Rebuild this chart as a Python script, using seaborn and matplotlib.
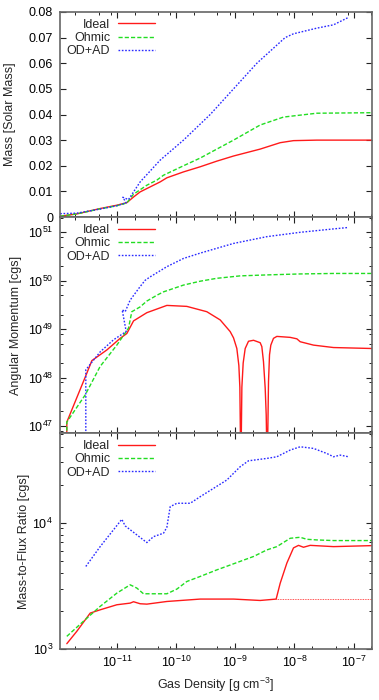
import numpy as np
import matplotlib
matplotlib.use("Agg")
import matplotlib.pyplot as plt
import matplotlib.ticker as mticker
import seaborn as sns

# densities are log10(rho / g cm^-3), log-axis quantities are log10 too

# ---- mass panel ----
mass_ideal_lrho = [-11.957, -11.676, -11.282, -11.0, -10.831, -10.718, -10.606, -10.268, -10.155,
                   -9.874, -9.592, -9.311, -9.029, -8.579, -8.241, -8.016, -7.622, -6.687]
mass_ideal = [0.0003, 0.0012, 0.0033, 0.0046, 0.0056, 0.0078, 0.0098, 0.0137, 0.0153,
              0.0176, 0.0196, 0.0218, 0.0238, 0.0265, 0.029, 0.0298, 0.030, 0.030]

mass_ohmic_lrho = [-11.957, -11.676, -11.282, -11.0, -10.831, -10.718, -10.493, -10.324, -10.212,
                   -9.874, -9.592, -9.311, -9.029, -8.579, -8.185, -7.622, -6.687]
mass_ohmic = [0.0003, 0.0012, 0.0032, 0.0044, 0.0055, 0.0089, 0.0124, 0.0144, 0.0163,
              0.020, 0.023, 0.0265, 0.030, 0.0359, 0.039, 0.0405, 0.0407]

mass_odad_lrho = [-11.957, -11.676, -11.282, -11.0, -10.842, -10.899, -10.803, -10.606, -10.268,
                  -9.874, -9.423, -9.029, -8.635, -8.158, -8.016, -7.622, -7.34, -7.087]
mass_odad = [0.0013, 0.0015, 0.0031, 0.0044, 0.0055, 0.0077, 0.0068, 0.0137, 0.0222,
             0.030, 0.040, 0.050, 0.060, 0.070, 0.0715, 0.0737, 0.075, 0.0779]

# ---- angular momentum panel (log10 J) ----
am_ideal_lrho = [-11.845, -11.845, -11.507, -11.422, -11.169, -10.944, -10.831, -10.718, -10.493,
                 -10.155, -9.818, -9.48, -9.254, -9.086, -9.029, -8.973, -8.939, -8.922, -8.905,
                 -8.888, -8.866, -8.832, -8.776, -8.691, -8.579, -8.551, -8.523, -8.494, -8.477,
                 -8.46, -8.438, -8.421, -8.399, -8.354, -8.297, -8.072, -7.959, -7.903, -7.678,
                 -7.34, -6.687]
am_ideal = [46.0, 47.08, 48.09, 48.35, 48.57, 48.81, 48.91, 49.17, 49.34,
            49.49, 49.47, 49.36, 49.19, 48.95, 48.82, 48.60, 48.25, 47.8, 46.0,
            47.8, 48.3, 48.6, 48.75, 48.77, 48.72, 48.64, 48.33, 47.78, 47.23,
            46.0, 47.92, 48.47, 48.67, 48.81, 48.85, 48.83, 48.80, 48.74, 48.67,
            48.62, 48.60]

am_ohmic_lrho = [-11.845, -11.845, -11.535, -11.282, -11.0, -10.803, -10.747, -10.606, -10.493,
                 -10.324, -10.212, -9.874, -9.592, -9.311, -8.917, -8.466, -7.903, -7.34, -6.687]
am_ohmic = [46.0, 47.08, 47.64, 48.23, 48.67, 49.02, 49.36, 49.46, 49.58,
            49.70, 49.77, 49.91, 49.99, 50.05, 50.10, 50.12, 50.14, 50.15, 50.15]

am_odad_lrho = [-11.524, -11.524, -11.282, -11.056, -10.842, -10.91, -10.859, -10.775, -10.606,
                -10.521, -10.437, -10.155, -9.874, -9.592, -9.311, -9.029, -8.748, -8.466,
                -7.903, -7.34, -7.087]
am_odad = [46.0, 48.16, 48.53, 48.78, 48.95, 49.40, 49.36, 49.60, 49.88,
           50.01, 50.08, 50.29, 50.46, 50.57, 50.67, 50.77, 50.84, 50.91,
           51.0, 51.07, 51.1]

# ---- mass-to-flux panel (log10) ----
mf_ideal_lrho = [-11.845, -11.676, -11.45, -11.282, -11.0, -10.775, -10.718, -10.606, -10.493,
                 -10.155, -9.592, -9.029, -8.579, -8.309, -8.241, -8.128, -8.016, -7.931,
                 -7.847, -7.734, -7.34, -6.687]
mf_ideal = [3.042, 3.14, 3.284, 3.31, 3.35, 3.363, 3.374, 3.358, 3.355,
            3.376, 3.395, 3.395, 3.384, 3.395, 3.52, 3.68, 3.80, 3.82,
            3.805, 3.82, 3.81, 3.818]
mf_ideal_flat_lrho = [-8.309, -6.687]
mf_ideal_flat = [3.395, 3.395]

mf_ohmic_lrho = [-11.845, -11.563, -11.282, -11.0, -10.775, -10.662, -10.55, -10.155, -9.986,
                 -9.818, -9.592, -9.311, -9.029, -8.691, -8.466, -8.297, -8.072, -7.903,
                 -7.791, -7.622, -7.34, -6.687]
mf_ohmic = [3.10, 3.22, 3.337, 3.442, 3.508, 3.482, 3.437, 3.437, 3.474,
            3.534, 3.574, 3.626, 3.674, 3.732, 3.784, 3.81, 3.876, 3.884,
            3.868, 3.863, 3.858, 3.858]

mf_odad_lrho = [-11.524, -11.282, -10.916, -10.859, -10.493, -10.381, -10.212, -10.155, -10.099,
                -9.986, -9.761, -9.592, -9.367, -9.142, -8.917, -8.776, -8.466, -8.297,
                -8.072, -7.903, -7.678, -7.453, -7.34, -7.227, -7.087]
mf_odad = [3.653, 3.81, 4.026, 3.974, 3.842, 3.889, 3.916, 3.963, 4.126,
           4.153, 4.153, 4.205, 4.271, 4.337, 4.442, 4.489, 4.508, 4.521,
           4.574, 4.60, 4.587, 4.547, 4.521, 4.534, 4.521]

x_decades = [-11, -10, -9, -8, -7]
am_decades = [47, 48, 49, 50, 51]
mf_decades = [3, 4]

labels = ["Ideal", "Ohmic", "OD+AD"]
colors = ["#ff1a1a", "#22dd22", "#2a2aff"]
styles = ["-", (0, (3, 1.5)), (0, (1.2, 1.2))]

sns.set_style("ticks")
plt.rcParams["font.family"] = ["Liberation Sans", "DejaVu Sans"]
plt.rcParams["mathtext.default"] = "regular"
plt.rcParams["font.size"] = 9

fig, axes = plt.subplots(3, 1, figsize=(3.79, 7.0), dpi=100, sharex=True,
                         gridspec_kw=dict(height_ratios=[205, 216, 216], hspace=0))
fig.subplots_adjust(left=60 / 379, right=372 / 379, top=1 - 12 / 700, bottom=1 - 649 / 700)

def pw(a):
    return np.power(10.0, np.array(a, dtype=float))

panels = [
    [(mass_ideal_lrho, mass_ideal), (mass_ohmic_lrho, mass_ohmic), (mass_odad_lrho, mass_odad)],
    [(am_ideal_lrho, am_ideal), (am_ohmic_lrho, am_ohmic), (am_odad_lrho, am_odad)],
    [(mf_ideal_lrho, mf_ideal), (mf_ohmic_lrho, mf_ohmic), (mf_odad_lrho, mf_odad)],
]

for i, ax in enumerate(axes):
    ax.set_xscale("log")
    if i > 0:
        ax.set_yscale("log")
    handles = []
    for (lx, ly), lab, c, ls in zip(panels[i], labels, colors, styles):
        yv = np.array(ly) if i == 0 else pw(ly)
        sns.lineplot(x=pw(lx), y=yv, ax=ax, sort=False, estimator=None,
                     color=c, linestyle=ls, lw=1.0, label=lab)
        handles.append(ax.lines[-1])
    if i == 2:
        sns.lineplot(x=pw(mf_ideal_flat_lrho), y=pw(mf_ideal_flat), ax=ax, sort=False,
                     estimator=None, color=colors[0], linestyle=(0, (1, 1)), lw=0.6)
    ax.legend(handles=handles, labels=labels, loc="upper right",
              bbox_to_anchor=(0.3045, 1 - 7 / 216), frameon=False, markerfirst=False,
              handlelength=3.0, handletextpad=0.6, labelspacing=0.1,
              borderpad=0, borderaxespad=0, fontsize=9)

axes[0].set_ylim(0, 0.08)
axes[0].yaxis.set_major_locator(mticker.MultipleLocator(0.01))
axes[0].yaxis.set_major_formatter(mticker.FuncFormatter(lambda v, p: "0" if abs(v) < 1e-9 else f"{v:.2f}"))
axes[1].set_ylim(10 ** 46.855, 10 ** 51.316)
axes[1].yaxis.set_major_locator(mticker.FixedLocator(pw(am_decades)))
axes[1].yaxis.set_minor_locator(mticker.LogLocator(base=10, subs=[2, 5, 8]))
axes[1].yaxis.set_minor_formatter(mticker.NullFormatter())
axes[2].set_ylim(1000, 10 ** 4.709)
axes[2].yaxis.set_major_locator(mticker.FixedLocator(pw(mf_decades)))
axes[2].yaxis.set_minor_locator(mticker.LogLocator(base=10, subs=np.arange(2, 10)))
axes[2].yaxis.set_minor_formatter(mticker.NullFormatter())
for ax in axes[1:]:
    ax.yaxis.set_major_formatter(mticker.LogFormatterSciNotation())
axes[2].set_xlim(10 ** -11.96, 10 ** -6.69)
axes[2].xaxis.set_major_locator(mticker.FixedLocator(pw(x_decades)))
axes[2].xaxis.set_major_formatter(mticker.LogFormatterSciNotation())
axes[2].xaxis.set_minor_locator(mticker.LogLocator(base=10, subs=[2, 5, 8], numticks=20))
axes[2].xaxis.set_minor_formatter(mticker.NullFormatter())

ylabels = ["Mass [Solar Mass]", "Angular Momentum [cgs]", "Mass-to-Flux Ratio [cgs]"]
# right edge of each rotated label, in axes fraction
ylx = [-0.142, -0.121, -0.096]
for ax, yl, lx in zip(axes, ylabels, ylx):
    ax.set_ylabel(yl, fontsize=9)
    ax.yaxis.set_label_coords(lx, 0.5)
    ax.tick_params(which="both", direction="in", top=True, right=True, colors="#222222",
                   labelsize=9, labelcolor="black")
    ax.tick_params(which="major", length=4, width=0.8, pad=5)
    ax.tick_params(which="minor", length=2.5, width=0.7)
    ax.tick_params(axis="x", which="major", pad=4)
    for s in ax.spines.values():
        s.set_color("#666666")
        s.set_linewidth(1.2)

axes[2].set_xlabel("Gas Density [g cm$^{-3}$]", fontsize=9, labelpad=4)

plt.savefig("out.png", dpi=100)
